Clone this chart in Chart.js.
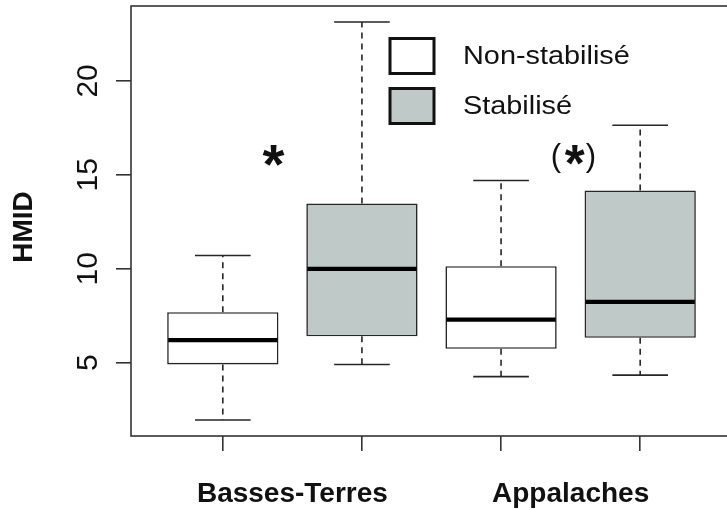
<!DOCTYPE html>
<html><head><meta charset="utf-8">
<script src="https://cdn.jsdelivr.net/npm/chart.js@4/dist/chart.umd.min.js"></script>
<style>
html,body{margin:0;padding:0;overflow:hidden;background:#fff;width:727px;height:510px}
#wrap{width:740px;height:510px}
</style></head>
<body><div id="wrap"><canvas id="c" width="740" height="510"></canvas></div>
<script>
// ---- data ----
const categories = ['Basses-Terres', 'Appalaches'];
const seriesNames = ['Non-stabilisé', 'Stabilisé'];
const nonStabMin    = [1.95, 4.26];
const nonStabQ1     = [4.91, 5.74];
const nonStabMedian = [6.20, 7.30];
const nonStabQ3     = [7.69, 10.14];
const nonStabMax    = [10.71, 14.70];
const stabMin       = [4.91, 4.34];
const stabQ1        = [6.41, 6.33];
const stabMedian    = [10.00, 8.24];
const stabQ3        = [13.47, 14.17];
const stabMax       = [23.14, 17.64];
const yTickValues = [5, 10, 15, 20];
const yAxisTitle = 'HMID';
const significance = ['*', '(*)'];

// ---- styles ----
const fills = ['#ffffff', '#bfcac8'];
const LINE = '#262626';
const TXT = '#111111';
const FAMILY = '"Liberation Sans", Arial, sans-serif';

const series = seriesNames.map((label, si) => si === 0
  ? {label, fill: fills[0], min: nonStabMin, q1: nonStabQ1, med: nonStabMedian, q3: nonStabQ3, max: nonStabMax}
  : {label, fill: fills[1], min: stabMin, q1: stabQ1, med: stabMedian, q3: stabQ3, max: stabMax});

const nBoxes = categories.length * series.length;
const xMin = 0.5 - 0.04 * nBoxes, xMax = nBoxes + 0.5 + 0.04 * nBoxes;
const allLo = Math.min(...series.flatMap(s => s.min));
const allHi = Math.max(...series.flatMap(s => s.max));
const yPad = 0.04 * (allHi - allLo);

function drawCenteredGlyph(ctx, text, cx, cy, weight, targetW) {
  ctx.font = weight + ' 100px ' + FAMILY;
  let m = ctx.measureText(text);
  const w0 = m.actualBoundingBoxLeft + m.actualBoundingBoxRight;
  const size = 100 * targetW / w0;
  ctx.font = weight + ' ' + size.toFixed(2) + 'px ' + FAMILY;
  ctx.textAlign = 'left'; ctx.textBaseline = 'alphabetic';
  m = ctx.measureText(text);
  const x = cx - (m.actualBoundingBoxRight - m.actualBoundingBoxLeft) / 2;
  const y = cy + (m.actualBoundingBoxAscent - m.actualBoundingBoxDescent) / 2;
  ctx.fillText(text, x, y);
}

const boxPlugin = {
  id: 'boxplot',
  afterDatasetsDraw(chart) {
    const ctx = chart.ctx, ys = chart.scales.y;
    ctx.save();
    series.forEach((s, si) => {
      chart.getDatasetMeta(si).data.forEach((bar, ci) => {
        const cx = bar.x, w = bar.width;
        const pMin = ys.getPixelForValue(s.min[ci]);
        const pQ1 = ys.getPixelForValue(s.q1[ci]);
        const pMed = ys.getPixelForValue(s.med[ci]);
        const pQ3 = ys.getPixelForValue(s.q3[ci]);
        const pMax = ys.getPixelForValue(s.max[ci]);
        ctx.strokeStyle = LINE; ctx.lineWidth = 1.6;
        ctx.setLineDash([6, 5]);
        ctx.beginPath();
        ctx.moveTo(cx, pQ3); ctx.lineTo(cx, pMax);
        ctx.moveTo(cx, pQ1); ctx.lineTo(cx, pMin);
        ctx.stroke();
        ctx.setLineDash([]);
        ctx.beginPath();
        ctx.moveTo(cx - w / 4, pMax); ctx.lineTo(cx + w / 4, pMax);
        ctx.moveTo(cx - w / 4, pMin); ctx.lineTo(cx + w / 4, pMin);
        ctx.stroke();
        ctx.strokeStyle = '#000'; ctx.lineWidth = 4.2;
        ctx.beginPath();
        ctx.moveTo(cx - w / 2 + 1, pMed); ctx.lineTo(cx + w / 2 - 1, pMed);
        ctx.stroke();
      });
    });
    ctx.restore();
  },
  afterDraw(chart) {
    const ctx = chart.ctx, a = chart.chartArea, xs = chart.scales.x, ys = chart.scales.y;
    ctx.save();
    // frame
    ctx.strokeStyle = '#333'; ctx.lineWidth = 1.6;
    ctx.strokeRect(a.left, a.top, a.right - a.left, a.bottom - a.top);
    ctx.fillStyle = TXT;
    // y tick labels (rotated)
    ctx.font = '30px ' + FAMILY;
    ys.ticks.forEach(t => {
      const y = ys.getPixelForValue(t.value);
      ctx.save(); ctx.translate(97, y); ctx.rotate(-Math.PI / 2);
      ctx.textAlign = 'center'; ctx.textBaseline = 'alphabetic';
      ctx.fillText(String(t.value), 0, 0);
      ctx.restore();
    });
    // y axis title
    ctx.font = 'bold 28px ' + FAMILY;
    ctx.save(); ctx.translate(32, (a.top + a.bottom) / 2 + 6); ctx.rotate(-Math.PI / 2);
    ctx.textAlign = 'center'; ctx.textBaseline = 'alphabetic';
    ctx.fillText(yAxisTitle, 0, 0);
    ctx.restore();
    // category labels
    ctx.font = 'bold 28px ' + FAMILY;
    ctx.textAlign = 'center'; ctx.textBaseline = 'alphabetic';
    categories.forEach((c, ci) => {
      const x = xs.getPixelForValue(ci * series.length + (series.length + 1) / 2);
      ctx.fillText(c, x, 501.5);
    });
    // legend
    series.forEach((s, si) => {
      const top = 38.5 + si * 50;
      ctx.fillStyle = s.fill; ctx.fillRect(390, top, 44, 35);
      ctx.strokeStyle = '#111'; ctx.lineWidth = 3;
      ctx.strokeRect(390, top, 44, 35);
      ctx.fillStyle = TXT;
      ctx.font = '26px ' + FAMILY;
      ctx.save(); ctx.translate(463, top + 25); ctx.scale(1.11, 1);
      ctx.textAlign = 'left'; ctx.textBaseline = 'alphabetic';
      ctx.fillText(s.label, 0, 0);
      ctx.restore();
    });
    // significance marks
    const anchors = [{x: 1.365, y: 16.03}, {x: 3.53, y: 16.05}];
    significance.forEach((txt, i) => {
      const px = xs.getPixelForValue(anchors[i].x), py = ys.getPixelForValue(anchors[i].y);
      ctx.fillStyle = TXT;
      const star = txt.replace(/[()]/g, '');
      drawCenteredGlyph(ctx, star, px, py, 'bold', i === 0 ? 22 : 20);
      if (txt.includes('(')) {
        ctx.font = '31px ' + FAMILY;
        ctx.textAlign = 'center'; ctx.textBaseline = 'alphabetic';
        ctx.fillText('(', px - 19, py + 10.5);
        ctx.fillText(')', px + 16, py + 10.5);
      }
    });
    ctx.restore();
  }
};

new Chart(document.getElementById('c'), {
  type: 'bar',
  data: {
    datasets: series.map((s, si) => ({
      label: s.label,
      data: categories.map((c, ci) => ({x: ci * series.length + si + 1, y: [s.q1[ci], s.q3[ci]]})),
      backgroundColor: s.fill,
      borderColor: LINE,
      borderWidth: 1.6,
      borderSkipped: false,
      grouped: false,
      barPercentage: 0.8,
      categoryPercentage: 1
    }))
  },
  options: {
    responsive: false,
    animation: false,
    devicePixelRatio: 1,
    layout: {padding: {top: 6, right: 8, left: 0, bottom: 0}},
    plugins: {legend: {display: false}, tooltip: {enabled: false}},
    scales: {
      x: {
        type: 'linear', min: xMin, max: xMax, offset: false,
        afterBuildTicks: sc => { sc.ticks = Array.from({length: nBoxes}, (_, i) => ({value: i + 1})); },
        afterFit: sc => { sc.height = 74; },
        ticks: {display: false},
        grid: {offset: false, drawOnChartArea: false, drawTicks: true, tickLength: 15, tickColor: '#333', tickWidth: 1.6, lineWidth: 1.6, color: '#333'},
        border: {display: false}
      },
      y: {
        type: 'linear', min: allLo - yPad, max: allHi + yPad,
        afterBuildTicks: sc => { sc.ticks = yTickValues.map(v => ({value: v})); },
        afterFit: sc => { sc.width = 131; },
        ticks: {display: false},
        grid: {drawOnChartArea: false, drawTicks: true, tickLength: 15, tickColor: '#333', tickWidth: 1.6, lineWidth: 1.6, color: '#333'},
        border: {display: false}
      }
    }
  },
  plugins: [boxPlugin]
});
</script>
</body></html>
